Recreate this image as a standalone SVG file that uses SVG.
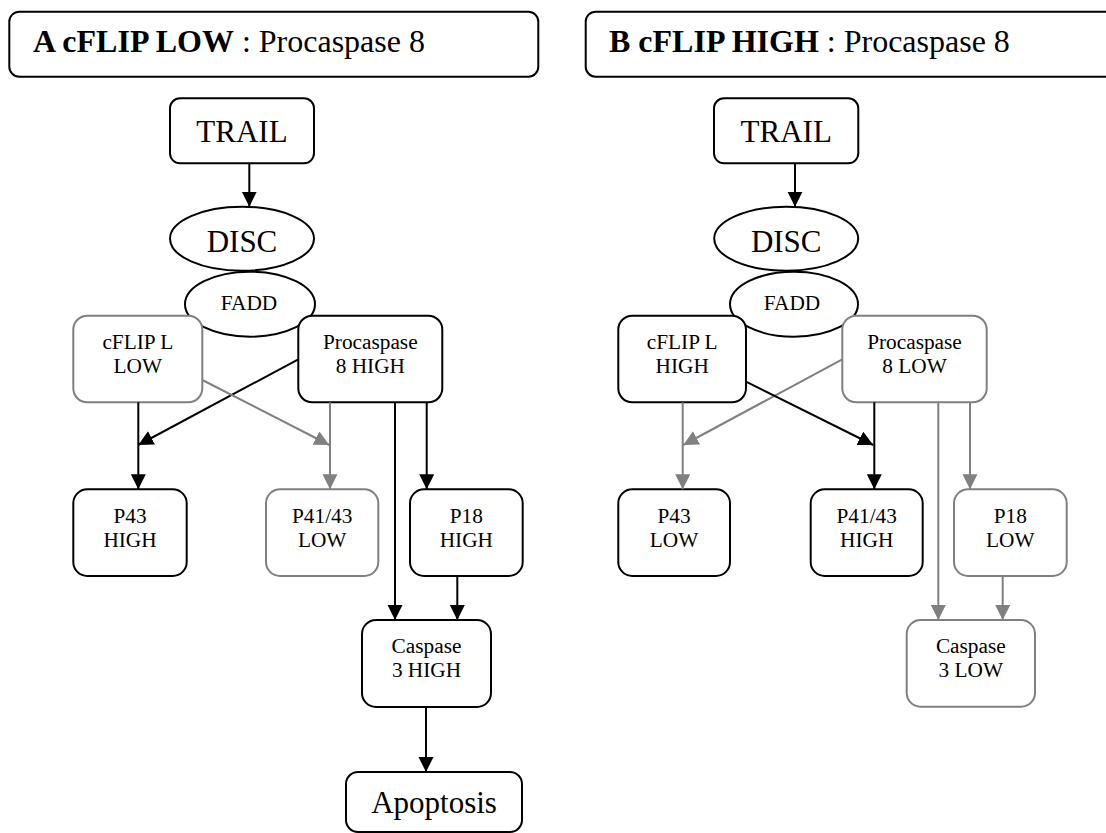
<svg xmlns="http://www.w3.org/2000/svg" width="1106" height="833" viewBox="0 0 1106 833">
<defs>
<style>
.box{fill:#fff;stroke:#000;stroke-width:2}
.gbox{fill:#fff;stroke:#808080;stroke-width:2}
.t{font-family:"Liberation Serif","Times New Roman",serif;fill:#000;text-anchor:middle}
.big{font-size:31px}
.sm{font-size:21.3px}
.title{font-family:"Liberation Serif","Times New Roman",serif;font-size:32px;fill:#000}
.bl{stroke:#000;stroke-width:2;fill:none;marker-end:url(#ab)}
.gl{stroke:#808080;stroke-width:2;fill:none;marker-end:url(#ag)}
</style>
<marker id="ab" markerUnits="userSpaceOnUse" markerWidth="16" markerHeight="16" viewBox="0 0 16 16" refX="15" refY="7.5" orient="auto"><path d="M0,0 L15,7.5 L0,15 z" fill="#000"/></marker>
<marker id="ag" markerUnits="userSpaceOnUse" markerWidth="16" markerHeight="16" viewBox="0 0 16 16" refX="15" refY="7.5" orient="auto"><path d="M0,0 L15,7.5 L0,15 z" fill="#808080"/></marker>
</defs>
<rect width="1106" height="833" fill="#fff"/>

<!-- Panel A -->
<g id="titleA"><rect class="box" x="9.3" y="11.7" width="529" height="65" rx="10"/><text class="title" x="33" y="52.3"><tspan font-weight="bold">A cFLIP LOW</tspan> : Procaspase 8</text></g>
<g id="trailA"><rect class="box" x="170" y="98.3" width="144" height="65" rx="10"/><text class="t big" x="242" y="142.3">TRAIL</text></g>
<g id="discA"><ellipse class="box" cx="242" cy="238.7" rx="72" ry="32"/><text class="t big" x="242" y="252.3">DISC</text></g>
<g id="faddA"><ellipse class="box" cx="250" cy="304.2" rx="65" ry="32.5"/><text class="t sm" x="249" y="310">FADD</text></g>
<g id="cflipA"><rect class="gbox" x="73.3" y="315.7" width="129" height="86.6" rx="14"/><text class="t sm" x="137.8" y="349.3">cFLIP L</text><text class="t sm" x="137.8" y="373.3">LOW</text></g>
<g id="proc8A"><rect class="box" x="298.3" y="315.7" width="144" height="86.6" rx="14"/><text class="t sm" x="370.3" y="349.3">Procaspase</text><text class="t sm" x="370.3" y="373.3">8 HIGH</text></g>
<g id="p43A"><rect class="box" x="73.3" y="489.3" width="113.4" height="86.7" rx="14"/><text class="t sm" x="130" y="522.7">P43</text><text class="t sm" x="130" y="547.3">HIGH</text></g>
<g id="p4143A"><rect class="gbox" x="266" y="489.3" width="112.3" height="86.7" rx="14"/><text class="t sm" x="322.2" y="522.7">P41/43</text><text class="t sm" x="322.2" y="547.3">LOW</text></g>
<g id="p18A"><rect class="box" x="410" y="489.3" width="112.7" height="86.7" rx="14"/><text class="t sm" x="466.3" y="522.7">P18</text><text class="t sm" x="466.3" y="547.3">HIGH</text></g>
<g id="casp3A"><rect class="box" x="362" y="620" width="129" height="87" rx="14"/><text class="t sm" x="426.5" y="653.3">Caspase</text><text class="t sm" x="426.5" y="677.3">3 HIGH</text></g>
<g id="apoptosisA"><rect class="box" x="346" y="772" width="176" height="60" rx="12"/><text class="t big" x="434" y="813">Apoptosis</text></g>

<!-- Panel B -->
<g id="titleB"><rect class="box" x="585.7" y="11.7" width="529" height="65" rx="10"/><text class="title" x="609" y="52.3"><tspan font-weight="bold">B cFLIP HIGH</tspan> : Procaspase 8</text></g>
<g id="trailB"><rect class="box" x="714" y="98.3" width="144.3" height="65" rx="10"/><text class="t big" x="786.2" y="142.3">TRAIL</text></g>
<g id="discB"><ellipse class="box" cx="786.2" cy="238.7" rx="72" ry="32"/><text class="t big" x="786.2" y="252.3">DISC</text></g>
<g id="faddB"><ellipse class="box" cx="794" cy="304.2" rx="64" ry="32.5"/><text class="t sm" x="792" y="310">FADD</text></g>
<g id="cflipB"><rect class="box" x="618.3" y="315.7" width="127.7" height="86.6" rx="14"/><text class="t sm" x="682.2" y="349.3">cFLIP L</text><text class="t sm" x="682.2" y="373.3">HIGH</text></g>
<g id="proc8B"><rect class="gbox" x="842.3" y="315.7" width="144.4" height="86.6" rx="14"/><text class="t sm" x="914.5" y="349.3">Procaspase</text><text class="t sm" x="914.5" y="373.3">8 LOW</text></g>
<g id="p43B"><rect class="box" x="618.3" y="489.3" width="111.7" height="86.7" rx="14"/><text class="t sm" x="674" y="522.7">P43</text><text class="t sm" x="674" y="547.3">LOW</text></g>
<g id="p4143B"><rect class="box" x="810.7" y="489.3" width="112" height="86.7" rx="14"/><text class="t sm" x="866.7" y="522.7">P41/43</text><text class="t sm" x="866.7" y="547.3">HIGH</text></g>
<g id="p18B"><rect class="gbox" x="954" y="489.3" width="112.7" height="86.7" rx="14"/><text class="t sm" x="1010.3" y="522.7">P18</text><text class="t sm" x="1010.3" y="547.3">LOW</text></g>
<g id="casp3B"><rect class="gbox" x="906.7" y="620" width="128.3" height="86.7" rx="14"/><text class="t sm" x="970.8" y="653.3">Caspase</text><text class="t sm" x="970.8" y="677.3">3 LOW</text></g>

<g id="connectors">
<path class="bl" d="M249.3,163.3 V206.7"/>
<path class="bl" d="M298.3,359.3 L138.3,445"/>
<path class="bl" d="M138.3,402.3 V489.3"/>
<path class="gl" d="M202.3,380 L329.3,445"/>
<path class="gl" d="M330,402.3 V489.3"/>
<path class="bl" d="M395,402.3 V620"/>
<path class="bl" d="M426.7,402.3 V489.3"/>
<path class="bl" d="M457.3,576 V620"/>
<path class="bl" d="M426,707 V772"/>

<path class="bl" d="M795,163.3 V206.7"/>
<path class="gl" d="M842.3,359.3 L683.3,445"/>
<path class="gl" d="M682.7,402.3 V489.3"/>
<path class="bl" d="M746,381.7 L873.3,445"/>
<path class="bl" d="M874.3,402.3 V489.3"/>
<path class="gl" d="M938.3,402.3 V620"/>
<path class="gl" d="M970,402.3 V489.3"/>
<path class="gl" d="M1002.7,576 V620"/>
</g>
</svg>
